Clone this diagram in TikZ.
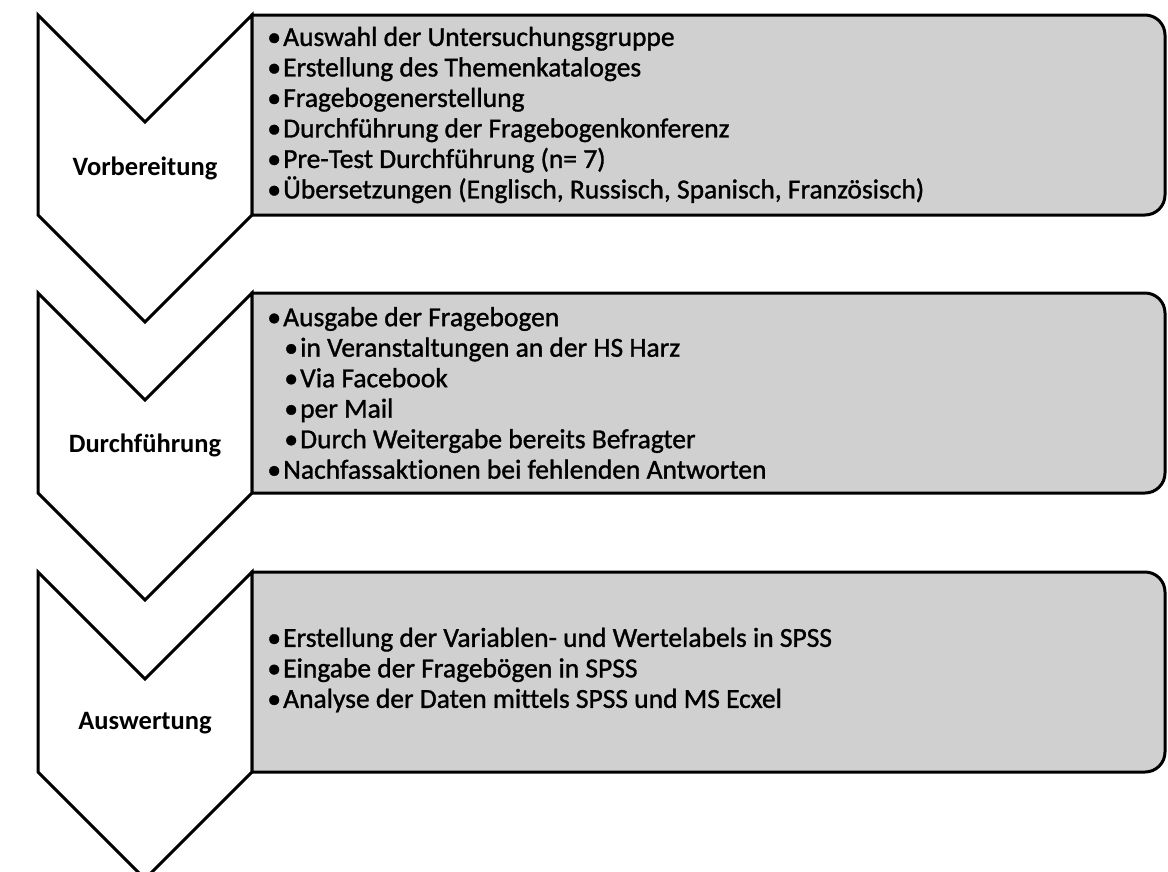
\documentclass[tikz,border=0pt]{standalone}
\usepackage{fontspec}
\setmainfont{Carlito}[Ligatures=NoCommon]
\newfontfamily\listfont{Carlito}[Ligatures=NoCommon, FakeBold=1.2]
\usetikzlibrary{positioning}
\definecolor{panelgray}{RGB}{208,208,208}
\newcommand{\itm}[1]{\makebox[18pt][c]{\textbullet}#1}
\newcommand{\subitm}[1]{\hspace{17pt}\makebox[18pt][c]{\textbullet}#1}

\begin{document}
\begin{tikzpicture}[x=1pt, y=-1pt,
        phase/.style={draw=black, line width=3pt, fill=white, line join=miter},
        panel/.style={draw=black, line width=3pt, fill=panelgray},
        steplabel/.style={font=\bfseries\fontsize{26.5}{30}\selectfont, inner sep=0pt},
        items/.style={anchor=west, align=left, inner sep=0pt, font=\listfont\fontsize{27.5}{30.5}\selectfont},
        ]
    \useasboundingbox (0,0) rectangle (1168,871);
    \foreach \y in {15, 293, 572} {
        \draw[phase] (38,\y) -- (145,\y+107) -- (252,\y) -- (252,\y+200) -- (145,\y+307) -- (38,\y+200) -- cycle;
        \draw[panel] (252,\y) -- (1145,\y) arc[start angle=-90, end angle=0, radius=20]
            -- (1165,\y+180) arc[start angle=0, end angle=90, radius=20] -- (252,\y+200) -- cycle;
    }

    \node[steplabel] (vorb) at (145,168) {Vorbereitung};
    \node[steplabel] (durch) at (145,445) {Durchführung};
    \node[steplabel] (ausw) at (145,723) {Auswertung};

    \node[items] (vorbitems) at (265,115) {\itm{Auswahl der Untersuchungsgruppe}\\
                            \itm{Erstellung des Themenkataloges}\\
                            \itm{Fragebogenerstellung}\\
                            \itm{Durchführung der Fragebogenkonferenz}\\
                            \itm{Pre-Test Durchführung (n= 7)}\\
                            \itm{Übersetzungen (Englisch, Russisch, Spanisch, Französisch)}};
    \node[items] (durchitems) at (265,393) {\itm{Ausgabe der Fragebogen}\\
                            \subitm{in Veranstaltungen an der HS Harz}\\
                            \subitm{Via Facebook}\\
                            \subitm{per Mail}\\
                            \subitm{Durch Weitergabe bereits Befragter}\\
                            \itm{Nachfassaktionen bei fehlenden Antworten}};
    \node[items] (auswitems) at (265,670) {\itm{Erstellung der Variablen- und Wertelabels in SPSS}\\
                            \itm{Eingabe der Fragebögen in SPSS}\\
                            \itm{Analyse der Daten mittels SPSS und MS Ecxel}};
\end{tikzpicture}
\end{document}
